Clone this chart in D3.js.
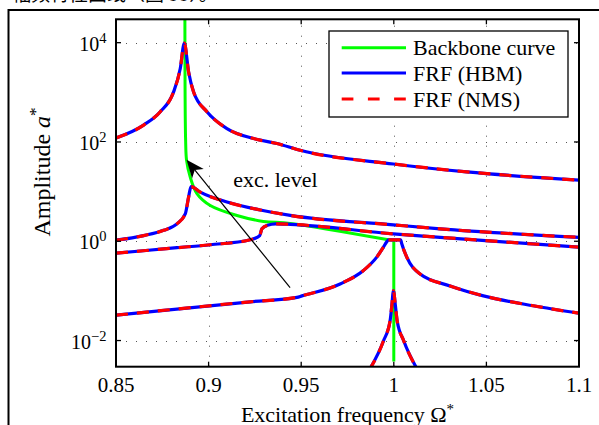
<!DOCTYPE html>
<html lang="en">
<head>
<meta charset="utf-8">
<title>Backbone curve and FRFs</title>
<script src="https://d3js.org/d3.v7.min.js"></script>
<style>
  body { margin: 0; background: #fff; }
  svg { display: block; font-family: "Liberation Serif", "Times New Roman", serif; }
</style>
</head>
<body>
<script>

// ticks
var xTicks = [0.85, 0.9, 0.95, 1, 1.05, 1.1];
var yTicks = [1e-2, 1e0, 1e2, 1e4];
var yTickExp = ["\u22122", "0", "2", "4"];

// backbone curve (green)
var bbFreq = [0.8872, 0.8873, 0.8876, 0.8881, 0.8900, 0.8937, 0.9009, 0.9153, 0.9296, 0.9441, 0.9971];
var bbAmp  = [40000, 1000, 107, 42.7, 20.0, 9.12, 5.25, 3.31, 2.51, 2.29, 1.07];
// vertical branch of the backbone at the linear resonance
var bbLinFreq = [0.9971, 1.0, 1.0];
var bbLinAmp  = [1.07, 1.05, 0.0038];

// FRFs, highest excitation level first
var frf4Freq = [0.85, 0.8649, 0.8739, 0.8811, 0.8847, 0.8869, 0.8892, 0.8919, 0.8991, 0.9099, 0.9243, 0.9369, 0.9494, 0.9998, 1.0394, 1.1];
var frf4Amp  = [120, 219, 407, 1020, 3020, 9770, 2570, 1020, 407, 186, 117, 93, 68, 36, 25, 17];

var frf3Freq = [0.85, 0.8649, 0.8757, 0.8829, 0.8874, 0.8892, 0.8905, 0.8955, 0.9099, 0.9279, 0.9441, 0.9998, 1.025, 1.1];
var frf3Amp  = [1.05, 1.30, 1.66, 2.24, 3.55, 7.76, 12.6, 9.77, 6.17, 4.27, 3.31, 2.14, 1.78, 1.20];

var frf2Freq = [0.85, 0.8829, 0.9009, 0.9225, 0.9243, 0.9276, 0.9288, 0.9318, 0.9363, 0.9441, 0.9998, 1.025, 1.1];
var frf2Amp  = [0.575, 0.741, 0.851, 1.07, 1.12, 1.30, 1.78, 2.09, 2.24, 2.19, 1.41, 1.20, 0.759];

var frf1Freq = [0.85, 0.9225, 0.9477, 0.9504, 0.971, 0.9836, 0.9908, 0.9944, 0.9962, 0.9971, 1.0037, 1.0043, 1.007, 1.0142, 1.0304, 1.0484, 1.0753, 1.1];
var frf1Amp  = [0.0324, 0.0603, 0.0741, 0.0794, 0.138, 0.257, 0.479, 0.759, 0.977, 1.07, 1.07, 0.891, 0.479, 0.219, 0.126, 0.0794, 0.0501, 0.0355];

// small isolated branch near Omega = 1
var frf0Freq = [0.9866, 0.9944, 0.998, 0.9989, 0.9998, 1.0009, 1.0018, 1.0054, 1.0130];
var frf0Amp  = [0.0025, 0.00977, 0.0251, 0.049, 0.10, 0.049, 0.0251, 0.00977, 0.0025];

var legendLabels = ["Backbone curve", "FRF (HBM)", "FRF (NMS)"];

// arrow "exc. level" (tail -> head), in data units
var arrowFreq = [0.9440, 0.8881];
var arrowAmp  = [0.117, 43.6];

var W = 599, H = 425;
var pLeft = 116, pRight = 579, pTop = 19.3, pBottom = 366.7;

var svg = d3.select("body").append("svg")
    .attr("width", W)
    .attr("height", H);

var x = d3.scaleLinear().domain([0.85, 1.1]).range([pLeft, pRight]);
var y = d3.scaleLog().domain([Math.pow(10, -2.527), Math.pow(10, 4.471)]).range([pBottom, pTop]);

// document text above the figure (cut off)
svg.append("text")
    .attr("x", 12).attr("y", 0.5)
    .attr("font-family", "Noto Sans CJK SC")
    .attr("font-size", 19)
    .text("幅频特性曲线（图 33）。");

// outer frame of the figure
svg.append("path")
    .attr("d", "M8.5," + H + "V10H" + W)
    .attr("fill", "none")
    .attr("stroke", "#000")
    .attr("stroke-width", 2);

svg.append("defs").append("clipPath").attr("id", "plotclip")
  .append("rect")
    .attr("x", pLeft).attr("y", pTop)
    .attr("width", pRight - pLeft).attr("height", pBottom - pTop);

// grid
var grid = svg.append("g")
    .attr("stroke", "#555")
    .attr("stroke-width", 1)
    .attr("stroke-dasharray", "1,9");

grid.selectAll(".gx")
    .data(xTicks.slice(1, -1))
    .enter().append("line")
    .attr("x1", function(d) { return Math.round(x(d)) + 0.5; })
    .attr("x2", function(d) { return Math.round(x(d)) + 0.5; })
    .attr("y1", pBottom).attr("y2", pTop);

grid.selectAll(".gy")
    .data(yTicks)
    .enter().append("line")
    .attr("y1", function(d) { return Math.round(y(d)) + 0.5; })
    .attr("y2", function(d) { return Math.round(y(d)) + 0.5; })
    .attr("x1", pLeft).attr("x2", pRight);

var plot = svg.append("g").attr("clip-path", "url(#plotclip)");

var frfLine = d3.line()
    .x(function(d) { return x(d[0]); })
    .y(function(d) { return y(d[1]); })
    .curve(d3.curveMonotoneX);

var bbLine = d3.line()
    .x(function(d) { return x(d[0]); })
    .y(function(d) { return y(d[1]); })
    .curve(d3.curveCatmullRom.alpha(0.5));

var straight = d3.line()
    .x(function(d) { return x(d[0]); })
    .y(function(d) { return y(d[1]); });

// backbone
plot.append("path")
    .attr("d", bbLine(d3.zip(bbFreq, bbAmp)))
    .attr("fill", "none")
    .attr("stroke", "#00ff00")
    .attr("stroke-width", 3)
    .attr("stroke-linejoin", "round");

plot.append("path")
    .attr("d", straight(d3.zip(bbLinFreq, bbLinAmp)))
    .attr("fill", "none")
    .attr("stroke", "#00ff00")
    .attr("stroke-width", 3)
    .attr("stroke-linejoin", "round");

var frfs = [
  d3.zip(frf4Freq, frf4Amp),
  d3.zip(frf3Freq, frf3Amp),
  d3.zip(frf2Freq, frf2Amp),
  d3.zip(frf1Freq, frf1Amp),
  d3.zip(frf0Freq, frf0Amp)
];

// HBM solid blue, NMS dashed red over it
frfs.forEach(function(pts) {
  plot.append("path")
      .attr("d", frfLine(pts))
      .attr("fill", "none")
      .attr("stroke", "#0000ff")
      .attr("stroke-width", 3.2)
      .attr("stroke-linejoin", "round");
  plot.append("path")
      .attr("d", frfLine(pts))
      .attr("fill", "none")
      .attr("stroke", "#ff0000")
      .attr("stroke-width", 3.2)
      .attr("stroke-dasharray", "12,9");
});

// axes box and ticks
svg.append("rect")
    .attr("x", pLeft).attr("y", pTop)
    .attr("width", pRight - pLeft).attr("height", pBottom - pTop)
    .attr("fill", "none")
    .attr("stroke", "#000")
    .attr("stroke-width", 2);

var ticks = svg.append("g").attr("stroke", "#000").attr("stroke-width", 1.3);
xTicks.forEach(function(t) {
  var px = x(t);
  ticks.append("line").attr("x1", px).attr("x2", px).attr("y1", pBottom).attr("y2", pBottom - 5);
  ticks.append("line").attr("x1", px).attr("x2", px).attr("y1", pTop).attr("y2", pTop + 5);
});
yTicks.forEach(function(t) {
  var py = y(t);
  ticks.append("line").attr("y1", py).attr("y2", py).attr("x1", pLeft).attr("x2", pLeft + 5);
  ticks.append("line").attr("y1", py).attr("y2", py).attr("x1", pRight).attr("x2", pRight - 5);
});

// tick labels
svg.selectAll(".xl")
    .data(xTicks)
    .enter().append("text")
    .attr("x", function(d) { return x(d); })
    .attr("y", pBottom + 25)
    .attr("text-anchor", "middle")
    .attr("font-size", 21)
    .text(function(d) { return d3.format("")(d); });

var yl = svg.selectAll(".yl")
    .data(yTicks)
    .enter().append("text")
    .attr("x", pLeft - 9.5)
    .attr("y", function(d) { return y(d) + 8; })
    .attr("text-anchor", "end")
    .attr("font-size", 20);
yl.append("tspan").text("10");
yl.append("tspan")
    .attr("dy", -8)
    .attr("font-size", 14.5)
    .text(function(d, i) { return yTickExp[i]; });

// axis titles
var xt = svg.append("text")
    .attr("x", (pLeft + pRight) / 2)
    .attr("y", 421.5)
    .attr("text-anchor", "middle")
    .attr("font-size", 22);
xt.append("tspan").text("Excitation frequency \u03a9");
xt.append("tspan").attr("dy", -8).attr("font-size", 15).text("*");

var yt = svg.append("text")
    .attr("transform", "translate(49.5,172) rotate(-90)")
    .attr("text-anchor", "middle")
    .attr("font-size", 24);
yt.append("tspan").text("Amplitude ");
yt.append("tspan").attr("font-style", "italic").text("a");
yt.append("tspan").attr("dy", -9).attr("font-size", 17).text("*");

// arrow
var ax0 = x(arrowFreq[0]), ay0 = y(arrowAmp[0]);
var ax1 = x(arrowFreq[1]), ay1 = y(arrowAmp[1]);
var len = Math.hypot(ax1 - ax0, ay1 - ay0);
var ux = (ax1 - ax0) / len, uy = (ay1 - ay0) / len;
var nx = -uy, ny = ux;
var headL = 18, headW = 7.5, notch = 13;
svg.append("line")
    .attr("x1", ax0).attr("y1", ay0)
    .attr("x2", ax1 - ux * notch).attr("y2", ay1 - uy * notch)
    .attr("stroke", "#000")
    .attr("stroke-width", 1.2);
svg.append("path")
    .attr("d", "M" + ax1 + "," + ay1 +
      "L" + (ax1 - ux * headL + nx * headW) + "," + (ay1 - uy * headL + ny * headW) +
      "L" + (ax1 - ux * notch) + "," + (ay1 - uy * notch) +
      "L" + (ax1 - ux * headL - nx * headW) + "," + (ay1 - uy * headL - ny * headW) + "Z")
    .attr("fill", "#000");

svg.append("text")
    .attr("x", x(0.9133))
    .attr("y", y(12.2))
    .attr("font-size", 22)
    .text("exc. level");

// legend
var lg = svg.append("g");
lg.append("rect")
    .attr("x", 329).attr("y", 31)
    .attr("width", 239).attr("height", 86)
    .attr("fill", "#fff")
    .attr("stroke", "#000")
    .attr("stroke-width", 1.3);

var rows = [47.7, 73, 99];
var lstyles = [
  {c: "#00ff00", dash: null},
  {c: "#0000ff", dash: null},
  {c: "#ff0000", dash: "11.7,14.5"}
];
legendLabels.forEach(function(lab, i) {
  lg.append("line")
      .attr("x1", 341.7).attr("x2", 406)
      .attr("y1", rows[i]).attr("y2", rows[i])
      .attr("stroke", lstyles[i].c)
      .attr("stroke-width", 3)
      .attr("stroke-dasharray", lstyles[i].dash);
  lg.append("text")
      .attr("x", 413)
      .attr("y", rows[i] + 7.5)
      .attr("font-size", 22)
      .text(lab);
});

</script>
</body>
</html>
